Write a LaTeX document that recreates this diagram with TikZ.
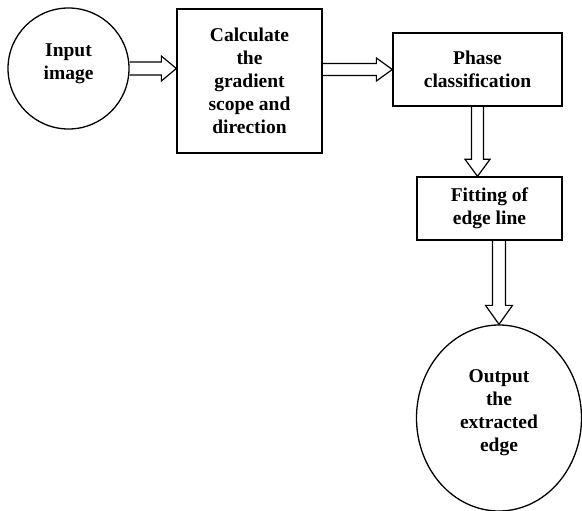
\documentclass[tikz,border=0pt]{standalone}
\usepackage{fontspec}
\setmainfont{Liberation Serif}
\usetikzlibrary{shapes.geometric,calc}
\begin{document}
\begin{tikzpicture}[x=1pt,y=-1pt,
  txt/.style={font=\fontsize{19.5}{23}\selectfont\bfseries, align=center, inner sep=0pt},
  lbl/.style={txt, line width=1.3pt, draw},
  boxnode/.style={lbl, rectangle},
  conn/.style={line width=1.2pt, line join=miter}]
\useasboundingbox (0,0) rectangle (582,511);
\node[lbl, circle, minimum size=121pt] (in) at (68.5,68.5) {};
\node[txt] (intxt) at ([yshift=5pt]in.center) {Input\\image};
\node[boxnode, minimum width=145pt, minimum height=144pt] (calc) at (249.5,81) {Calculate\\the\\gradient\\scope and\\direction};
\node[boxnode, minimum width=169pt, minimum height=73pt] (phase) at (477.5,69.5) {Phase\\classification};
\node[boxnode, minimum width=145pt, minimum height=63pt] (fit) at (489.5,208.5) {Fitting of\\edge line};
\node[lbl, ellipse, minimum width=165pt, minimum height=186pt] (out) at (499,418) {};
\node[txt] (outtxt) at ([yshift=5pt]out.center) {Output\\the\\extracted\\edge};
% hollow arrows
\draw[conn] let \p1=(in.east), \p2=(calc.west) in
  (\x1,\y1-6.5) -- (\x2-15,\y1-6.5) -- (\x2-15,\y1-12.5) -- (\x2,\y1) -- (\x2-15,\y1+12.5) -- (\x2-15,\y1+6.5) -- (\x1,\y1+6.5);
\draw[conn] let \p1=(calc.east), \p2=(phase.west) in
  (\x1,\y2-6) -- (\x2-16,\y2-6) -- (\x2-16,\y2-11.5) -- (\x2,\y2) -- (\x2-16,\y2+11.5) -- (\x2-16,\y2+6) -- (\x1,\y2+6);
\draw[conn] let \p1=(phase.south), \p2=(fit.north) in
  (\x1-6,\y1) -- (\x1-6,\y2+17) -- (\x1-12.5,\y2+17) -- (\x1,\y2) -- (\x1+12.5,\y2+17) -- (\x1+6,\y2+17) -- (\x1+6,\y1);
\draw[conn] let \p1=(fit.south), \p2=(out.north) in
  (\x2-6.5,\y1) -- (\x2-6.5,\y2+19) -- (\x2-13.5,\y2+19) -- (\x2,\y2) -- (\x2+13.5,\y2+19) -- (\x2+6.5,\y2+19) -- (\x2+6.5,\y1);
\end{tikzpicture}
\end{document}
